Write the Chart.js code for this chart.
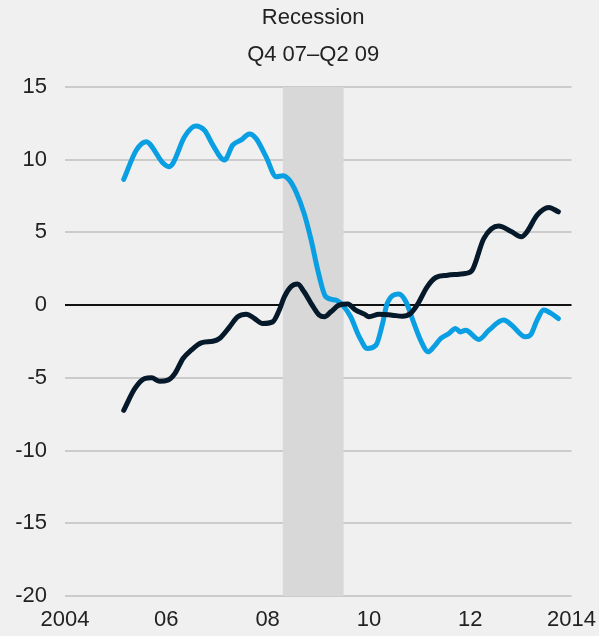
<!DOCTYPE html>
<html>
<head>
<meta charset="utf-8">
<script src="https://cdn.jsdelivr.net/npm/chart.js@4"></script>
<style>
  html, body { margin: 0; padding: 0; background: #f0f0f0; }
  #wrap { width: 599px; height: 636px; }
</style>
</head>
<body>
<div id="wrap"><canvas id="chart" width="599" height="636"></canvas></div>
<script>
// datos
const blueX = [2005.16, 2005.41, 2005.61, 2005.67, 2005.94, 2006.05, 2006.13, 2006.36, 2006.58, 2006.76,
  2006.92, 2007.15, 2007.31, 2007.48, 2007.64, 2007.77, 2007.97, 2008.17, 2008.30, 2008.43,
  2008.56, 2008.72, 2008.86, 2008.99, 2009.15, 2009.35, 2009.48, 2009.64, 2009.81, 2009.97,
  2010.14, 2010.27, 2010.36, 2010.59, 2010.73, 2010.89, 2011.02, 2011.17, 2011.28, 2011.42,
  2011.58, 2011.71, 2011.81, 2011.91, 2012.17, 2012.37, 2012.66, 2012.82, 2013.09, 2013.19,
  2013.32, 2013.45, 2013.58, 2013.74];
const blueY = [8.65, 10.67, 11.24, 11.1, 9.75, 9.52, 9.75, 11.58, 12.32, 12.0,
  11.0, 9.98, 11.0, 11.36, 11.77, 11.47, 10.2, 8.83, 8.9, 8.6,
  7.8, 6.31, 4.47, 2.41, 0.57, 0.34, 0.0, -0.8, -2.18, -2.98,
  -2.75, -1.26, 0.11, 0.76, 0.23, -1.26, -2.41, -3.21, -2.87, -2.29,
  -1.95, -1.6, -1.84, -1.72, -2.36, -1.72, -1.03, -1.38, -2.18, -2.06,
  -1.03, -0.34, -0.53, -0.92];

const darkX = [2005.16, 2005.38, 2005.57, 2005.71, 2005.87, 2006.03, 2006.17, 2006.33, 2006.49, 2006.69,
  2006.92, 2007.05, 2007.25, 2007.41, 2007.58, 2007.74, 2007.90, 2008.10, 2008.23, 2008.33,
  2008.46, 2008.59, 2008.72, 2008.86, 2009.02, 2009.12, 2009.25, 2009.41, 2009.58, 2009.74,
  2009.91, 2010.00, 2010.20, 2010.46, 2010.66, 2010.82, 2010.95, 2011.15, 2011.32, 2011.55,
  2011.78, 2011.91, 2012.04, 2012.27, 2012.56, 2012.82, 2013.01, 2013.12, 2013.32, 2013.55,
  2013.74];
const darkY = [-7.23, -5.73, -5.05, -5.0, -5.23, -5.16, -4.7, -3.67, -3.1, -2.59,
  -2.48, -2.29, -1.49, -0.8, -0.62, -0.92, -1.26, -1.15, -0.34, 0.57,
  1.26, 1.45, 0.92, 0.11, -0.69, -0.8, -0.46, 0.0, 0.07, -0.34,
  -0.62, -0.8, -0.62, -0.69, -0.76, -0.57, 0.0, 1.26, 1.9, 2.06,
  2.13, 2.18, 2.41, 4.59, 5.44, 5.04, 4.7, 5.04, 6.19, 6.72,
  6.42];

const xTicks = [2004, 2006, 2008, 2010, 2012, 2014];
const xTickLabels = ['2004', '06', '08', '10', '12', '2014'];
const yTicks = [-20, -15, -10, -5, 0, 5, 10, 15];

const recession = [2008.3, 2009.5];
const recessionLabel = ['Recession', 'Q4 07\u2013Q2 09'];

const FONT = '"Liberation Sans", Arial, sans-serif';

function toPoints(xs, ys) {
  return xs.map((x, i) => ({ x: x, y: ys[i] }));
}

// banda de recesion + rotulo arriba
const recessionPlugin = {
  id: 'recession',
  beforeDatasetsDraw(chart) {
    const { ctx, chartArea, scales } = chart;
    const x0 = scales.x.getPixelForValue(recession[0]);
    const x1 = scales.x.getPixelForValue(recession[1]);
    ctx.save();
    ctx.fillStyle = '#d8d8d8';
    ctx.fillRect(x0, chartArea.top, x1 - x0, chartArea.bottom - chartArea.top);
    ctx.restore();
  },
  afterDraw(chart) {
    const { ctx, scales } = chart;
    const cx = (scales.x.getPixelForValue(recession[0]) + scales.x.getPixelForValue(recession[1])) / 2;
    ctx.save();
    ctx.fillStyle = '#222';
    ctx.font = '22px ' + FONT;
    ctx.textAlign = 'center';
    ctx.textBaseline = 'middle';
    ctx.fillText(recessionLabel[0], cx, 18);
    ctx.fillText(recessionLabel[1], cx, 55);
    ctx.restore();
  }
};

new Chart(document.getElementById('chart'), {
  type: 'line',
  data: {
    datasets: [{
      data: toPoints(darkX, darkY),
      borderColor: '#06192a',
      borderWidth: 5,
      pointRadius: 0,
      tension: 0.4,
      cubicInterpolationMode: 'monotone',
      borderCapStyle: 'round',
      borderJoinStyle: 'round'
    }, {
      data: toPoints(blueX, blueY),
      borderColor: '#0a9fe2',
      borderWidth: 5,
      pointRadius: 0,
      tension: 0.4,
      cubicInterpolationMode: 'monotone',
      borderCapStyle: 'round',
      borderJoinStyle: 'round'
    }]
  },
  options: {
    responsive: false,
    animation: false,
    layout: { padding: { top: 87, right: 26, left: 0, bottom: 0 } },
    plugins: { legend: { display: false }, tooltip: { enabled: false } },
    scales: {
      x: {
        type: 'linear',
        min: 2004,
        max: 2014,
        afterBuildTicks(scale) {
          scale.ticks = xTicks.map(v => ({ value: v }));
        },
        afterFit(scale) { scale.height = 40; },
        grid: { display: false },
        border: { display: false },
        ticks: {
          color: '#222',
          font: { family: FONT, size: 22 },
          padding: 3,
          maxRotation: 0,
          autoSkip: false,
          callback: (v) => xTickLabels[xTicks.indexOf(v)]
        }
      },
      y: {
        min: -20,
        max: 15,
        afterBuildTicks(scale) {
          scale.ticks = yTicks.map(v => ({ value: v }));
        },
        afterFit(scale) { scale.width = 65; },
        grid: {
          drawTicks: false,
          lineWidth: 2,
          color: (c) => c.tick && c.tick.value === 0 ? '#111' : '#cbcbcb'
        },
        border: { display: false },
        ticks: {
          color: '#222',
          font: { family: FONT, size: 22 },
          padding: 18
        }
      }
    }
  },
  plugins: [recessionPlugin]
});
</script>
</body>
</html>
